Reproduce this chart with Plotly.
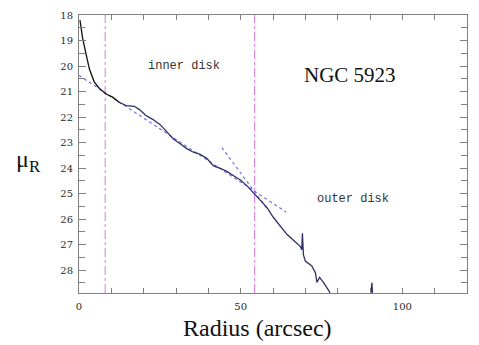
import plotly.graph_objects as go

# Surface-brightness profile of NGC 5923
profile_r = [0.3, 1.1, 2.2, 3.2, 4.7, 6.3, 8.4, 10.4, 12.5, 14.6, 17.1, 18.7, 20.7, 22.8,
             25.1, 27.2, 29.2, 31.3, 33.3, 35.4, 37.5, 39.5, 41.6, 43.7, 45.7, 47.8, 49.8,
             51.9, 54.0, 56.0, 58.1, 60.2, 62.3, 64.3, 66.5, 68.4, 68.9, 69.1, 69.4, 70.0,
             72.0, 73.1, 73.6, 74.4, 75.6, 76.7, 77.5, 78.0, 85.0, 89.9, 90.6, 90.9, 95.0]
profile_mu = [18.2, 18.9, 19.54, 20.11, 20.62, 20.88, 21.1, 21.22, 21.43, 21.55, 21.58, 21.71, 21.94, 22.09,
              22.3, 22.6, 22.86, 23.05, 23.24, 23.38, 23.46, 23.62, 23.92, 24.01, 24.13, 24.3, 24.46,
              24.69, 24.97, 25.22, 25.54, 25.95, 26.3, 26.6, 26.85, 27.07, 27.2, 26.56, 27.4, 27.65,
              27.84, 28.1, 28.48, 28.29, 28.48, 28.73, 28.86, 29.3, 29.3, 29.3, 28.5, 29.3, 29.3]
n_black = 9  # first points drawn in black

# Exponential-disk fits (dotted)
fit_inner_r = [0.0, 64.1]
fit_inner_mu = [20.37, 25.73]
fit_outer_r = [44.2, 58.0]
fit_outer_mu = [23.2, 25.57]

# Break radii (dash-dot)
break_r = [8.1, 54.3]

fig = go.Figure()

fig.add_trace(go.Scatter(x=fit_inner_r, y=fit_inner_mu, mode="lines",
                         line=dict(color="#7070ea", width=1.2, dash="dot"), hoverinfo="skip"))
fig.add_trace(go.Scatter(x=fit_outer_r, y=fit_outer_mu, mode="lines",
                         line=dict(color="#7070ea", width=1.2, dash="dot"), hoverinfo="skip"))
fig.add_trace(go.Scatter(x=profile_r[n_black - 1:], y=profile_mu[n_black - 1:], mode="lines",
                         line=dict(color="#2e2e68", width=1.3)))
fig.add_trace(go.Scatter(x=profile_r[:n_black], y=profile_mu[:n_black], mode="lines",
                         line=dict(color="#111111", width=1.3)))

for b in break_r:
    fig.add_shape(type="line", xref="x", yref="paper", x0=b, x1=b, y0=0, y1=1,
                  line=dict(color="#dc86dc", width=1.1, dash="dashdot"), layer="below")

axis_common = dict(showline=True, linecolor="#808080", linewidth=1, mirror="ticks",
                   ticks="inside", tickcolor="#808080", showgrid=False, zeroline=False,
                   tickfont=dict(family="DejaVu Serif", size=10, color="#2a2a2a"))

fig.update_xaxes(range=[0, 120], tick0=0, dtick=50, ticklen=5, ticklabelstandoff=4,
                 minor=dict(dtick=10, ticks="inside", ticklen=5, tickcolor="#808080",
                            showgrid=False),
                 **axis_common)
fig.update_yaxes(range=[28.9, 18], tick0=18, dtick=1, ticklen=7, ticklabelstandoff=3,
                 minor=dict(dtick=0.5, ticks="inside", ticklen=6, tickcolor="#808080",
                            showgrid=False),
                 **axis_common)

fig.add_annotation(x=32.5, y=20.0, text="inner disk", showarrow=False,
                   font=dict(family="Liberation Mono", size=12, color="#333333"))
fig.add_annotation(x=84.6, y=25.21, text="outer disk", showarrow=False,
                   font=dict(family="Liberation Mono", size=12, color="#333333"))
fig.add_annotation(x=83.8, y=20.34, text="NGC 5923", showarrow=False,
                   font=dict(family="Liberation Serif", size=21, color="#111111"))
fig.add_annotation(xref="paper", yref="paper", x=(257.5 - 79) / 388, y=-(329 - 293) / 284,
                   text="Radius (arcsec)", showarrow=False, xanchor="center", yanchor="middle",
                   font=dict(family="Liberation Serif", size=24, color="#111111"))
fig.add_annotation(xref="paper", yref="paper", x=(28 - 79) / 388, y=1 - (158 - 9) / 284,
                   text="μ<sub>R</sub>", showarrow=False, xanchor="center", yanchor="middle",
                   font=dict(family="Liberation Serif", size=24, color="#111111"))

fig.update_layout(width=479, height=345, margin=dict(l=79, r=12, t=9, b=52),
                  paper_bgcolor="white", plot_bgcolor="white", showlegend=False)

fig.write_html("out.html")
